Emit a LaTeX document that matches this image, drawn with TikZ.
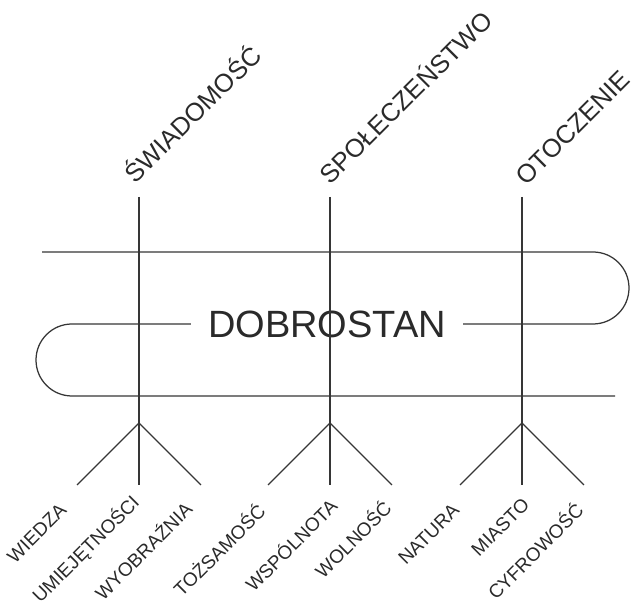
\documentclass[tikz,border=0pt]{standalone}
\usepackage{fontspec}
\setmainfont{Liberation Sans}
\definecolor{linec}{HTML}{363636}
\definecolor{textc}{HTML}{2A2A2A}
\begin{document}
\begin{tikzpicture}[x=1pt,y=1pt,
  ln/.style={draw=linec,line width=1.25pt},
  toplabel/.style={text=textc,inner sep=0pt,rotate=45,anchor=south west,font=\fontsize{25.5}{29}\selectfont},
  botlabel/.style={text=textc,inner sep=0pt,rotate=45,anchor=east,font=\fontsize{19}{22}\selectfont},
  mainlabel/.style={text=textc,inner xsep=17pt,inner ysep=0pt,font=\fontsize{38}{44}\selectfont}]
\useasboundingbox (0,0) rectangle (633,602);
% band
\node[mainlabel] (dob) at (327,278) {DOBROSTAN};
\coordinate (mr) at (593,278);
\coordinate (tl) at (42,350);
\coordinate (ml) at (72,278);
\coordinate (br) at (615,206);
\draw[ln] (dob.east |- mr) -- (mr) arc[start angle=-90,end angle=90,radius=36pt] -- (tl);
\draw[ln] (dob.west |- ml) -- (ml) arc[start angle=90,end angle=270,radius=36pt] -- (br);
% columns
\foreach \i/\x in {1/139,2/330,3/522}{
  \coordinate (t\i) at (\x,405);
  \coordinate (b\i) at (\x,179);
  \coordinate (l\i) at (\x-62,117);
  \coordinate (m\i) at (\x,117);
  \coordinate (r\i) at (\x+62,117);
  \draw[ln] (t\i) -- (m\i);
  \draw[ln] (b\i) -- (l\i);
  \draw[ln] (b\i) -- (r\i);
}
% top labels
\node[toplabel] (s1) at (136,417) {ŚWIADOMOŚĆ};
\node[toplabel] (s2) at (331,416) {SPOŁECZEŃSTWO};
\node[toplabel] (s3) at (527,415) {OTOCZENIE};
% bottom labels
\node[botlabel] (w1) at (63,95) {WIEDZA};
\node[botlabel] (w2) at (136,103) {UMIEJĘTNOŚCI};
\node[botlabel] (w3) at (188,97) {WYOBRAŹNIA};
\node[botlabel] (w4) at (261,95) {TOŻSAMOŚĆ};
\node[botlabel] (w5) at (333,100) {WSPÓLNOTA};
\node[botlabel] (w6) at (387,98) {WOLNOŚĆ};
\node[botlabel] (w7) at (456,95) {NATURA};
\node[botlabel] (w8) at (526,101) {MIASTO};
\node[botlabel] (w9) at (579,96) {CYFROWOŚĆ};
\end{tikzpicture}
\end{document}
